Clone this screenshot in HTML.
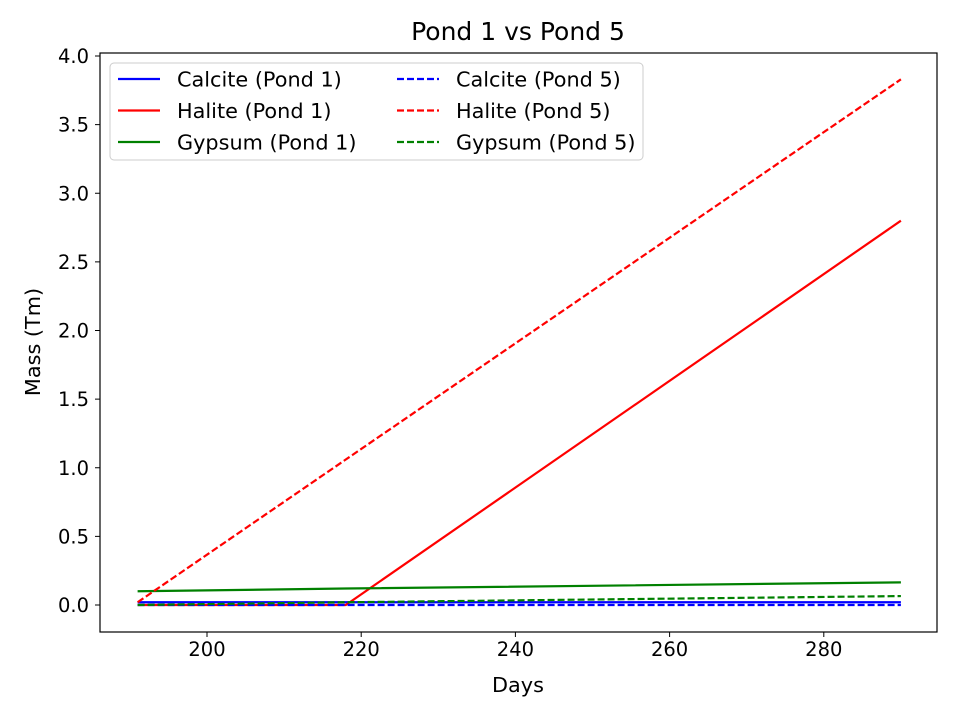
<!DOCTYPE html>
<html><head><meta charset="utf-8"><style>
body{margin:0;background:#fff}
svg text{font-family:"DejaVu Sans","Liberation Sans",sans-serif;fill:#000}
</style></head><body>
<svg id="chart" width="960" height="720">
<rect width="960" height="720" fill="#fff"/>
<text x="518" y="40" font-size="25" text-anchor="middle">Pond 1 vs Pond 5</text>
<g id="plot"></g>
<rect x="100" y="53" width="837" height="579" fill="none" stroke="#000" stroke-width="1.2"/>
<g id="axes"></g>
<text x="518" y="692" font-size="20.8" text-anchor="middle">Days</text>
<text x="40" y="342" font-size="20.8" text-anchor="middle" transform="rotate(-90 40 342)">Mass (Tm)</text>
<g id="legend"></g>
</svg>
<script>
const xTicks=[200,220,240,260,280];
const yTicks=[0,0.5,1,1.5,2,2.5,3,3.5,4];
const days=[191,218,290];
const calcite1=[0.02,0.02,0.02];
const halite1=[0.0,0.0,2.80];
const gypsum1=[0.10,0.12,0.165];
const calcite5=[0.0,0.0,0.0];
const halite5=[0.02,1.06,3.83];
const gypsum5=[0.0,0.02,0.065];
const series=[
 {name:"Calcite (Pond 1)",v:calcite1,c:"#0000ff",d:""},
 {name:"Halite (Pond 1)",v:halite1,c:"#ff0000",d:""},
 {name:"Gypsum (Pond 1)",v:gypsum1,c:"#008000",d:""},
 {name:"Calcite (Pond 5)",v:calcite5,c:"#0000ff",d:"7,3"},
 {name:"Halite (Pond 5)",v:halite5,c:"#ff0000",d:"7,3"},
 {name:"Gypsum (Pond 5)",v:gypsum5,c:"#008000",d:"7,3"}];
const NS="http://www.w3.org/2000/svg";
const X=d=>207+(d-200)*7.71;
const Y=v=>605-v*137.25;
function mk(t,a,p){const e=document.createElementNS(NS,t);for(const k in a)e.setAttribute(k,a[k]);p.appendChild(e);return e;}
const axes=document.getElementById('axes');
xTicks.forEach(t=>{
 const l=mk('line',{x1:X(t),x2:X(t),y1:632,y2:637,stroke:'#000'},axes);
 
 
 const tx=mk('text',{x:X(t),y:656,'font-size':19.5,'text-anchor':'middle'},axes);tx.textContent=t;
 
 
});
yTicks.forEach(t=>{
 const l=mk('line',{x1:95,x2:100,y1:Y(t),y2:Y(t),stroke:'#000'},axes);
 
 
 const tx=mk('text',{x:89,y:Y(t)+7,'font-size':19.5,'text-anchor':'end'},axes);tx.textContent=t.toFixed(1);
 
 
});
const plot=document.getElementById('plot');
series.forEach(s=>{
 const p=mk('polyline',{points:days.map((d,i)=>X(d)+','+Y(s.v[i])).join(' '),fill:'none',stroke:s.c,'stroke-width':2.2,'stroke-dasharray':s.d},plot);
 
 
});
const lg=document.getElementById('legend');
const box=mk('rect',{x:110,y:63,width:533,height:97,rx:4,fill:'#fff','fill-opacity':0.8,stroke:'#ccc'},lg);


series.forEach((s,i)=>{
 const col=Math.floor(i/3),row=i%3;
 const x0=118+col*279,y0=79+row*31.5;
 const l=mk('line',{x1:x0,x2:x0+42,y1:y0,y2:y0,stroke:s.c,'stroke-width':2.2,'stroke-dasharray':s.d},lg);
 
 
 const t=mk('text',{x:x0+59,y:y0+7.5,'font-size':20.8},lg);t.textContent=s.name;
 
 
});
</script>
</body></html>
